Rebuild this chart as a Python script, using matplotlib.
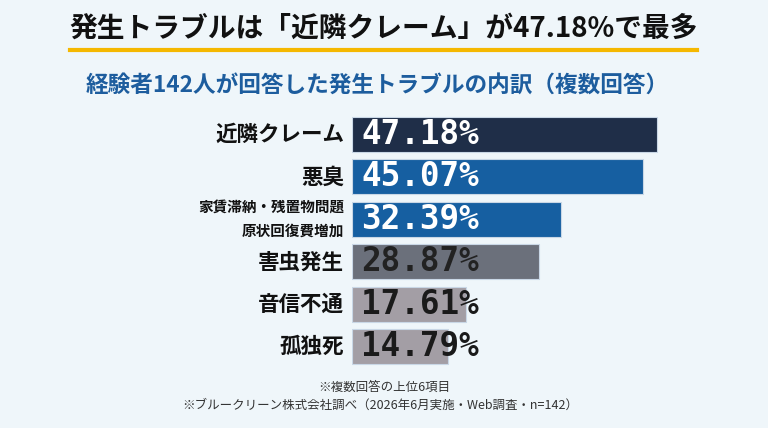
import matplotlib
matplotlib.use("Agg")
import matplotlib.pyplot as plt
from matplotlib.transforms import offset_copy

categories = ["近隣クレーム", "悪臭", "家賃滞納・残置物問題\n原状回復費増加", "害虫発生", "音信不通", "孤独死"]
values = [47.18, 45.07, 32.39, 28.87, 17.61, 14.79]
value_labels = ["47.18%", "45.07%", "32.39%", "28.87%", "17.61%", "14.79%"]
bar_colors = ["#1f2e48", "#165fa1", "#165fa1", "#6b707b", "#a39ea5", "#a39ea5"]
text_colors = ["white", "white", "white", "#222222", "#1a1a1a", "#1a1a1a"]

title = "発生トラブルは「近隣クレーム」が47.18%で最多"
subtitle = "経験者142人が回答した発生トラブルの内訳（複数回答）"
notes = ["※複数回答の上位6項目", "※ブルークリーン株式会社調べ（2026年6月実施・Web調査・n=142）"]

W, H = 768, 428
bg = "#eff6fa"
jp = ["Noto Sans CJK JP", "DejaVu Sans"]

fig = plt.figure(figsize=(W / 100, H / 100), dpi=100, facecolor=bg)

def fx(px):
    return px / W

def fy(py):
    return 1 - py / H

# title
fig.text(fx(384), fy(29), title, ha="center", va="center", fontsize=20,
         fontweight="bold", family=jp, color="#111111")
fig.add_artist(plt.Line2D([fx(70), fx(697)], [fy(50), fy(50)], color="#f5b800", lw=3))
fig.text(fx(377), fy(86), subtitle, ha="center", va="center", fontsize=16.3,
         fontweight="bold", family=jp, color="#1d5d9e")

# axes
x_left, x_right = 352, 740
xmax = 60
pitch = 42.4
top = 134.5 - pitch / 2
bottom = top + pitch * 6
ax = fig.add_axes([fx(x_left), fy(bottom), fx(x_right) - fx(x_left), (bottom - top) / H])
ax.set_facecolor("none")
ax.set_xlim(0, xmax)
ax.set_ylim(5.5, -0.5)
ypos = list(range(len(categories)))
ax.barh(ypos, values, height=0.83, color=bar_colors, edgecolor="#c9d7e6", linewidth=0.8)
for s in ax.spines.values():
    s.set_visible(False)
ax.set_xticks([])
ax.set_yticks([])

trans = offset_copy(ax.transData, fig=fig, x=9, y=0, units="dots")
for i, (lab, col) in enumerate(zip(value_labels, text_colors)):
    ax.text(0, i, lab, transform=trans, ha="left", va="center", fontsize=23.5,
            fontweight="bold", family="DejaVu Sans Mono", color=col)

ltrans = offset_copy(ax.transData, fig=fig, x=-8, y=0, units="dots")
for i, cat in enumerate(categories):
    if "\n" in cat:
        ax.text(0, i, cat, transform=ltrans, ha="right", va="center", fontsize=10.5,
                fontweight="bold", family=jp, color="#111111", linespacing=1.5,
                multialignment="right")
    else:
        ax.text(0, i, cat, transform=ltrans, ha="right", va="center", fontsize=15.5,
                fontweight="bold", family=jp, color="#111111")

fig.text(fx(384), fy(387), notes[0], ha="center", va="center", fontsize=9,
         family=jp, color="#333333")
fig.text(fx(380), fy(405), notes[1], ha="center", va="center", fontsize=9,
         family=jp, color="#333333")

fig.savefig("out.png", dpi=100, facecolor=bg)
